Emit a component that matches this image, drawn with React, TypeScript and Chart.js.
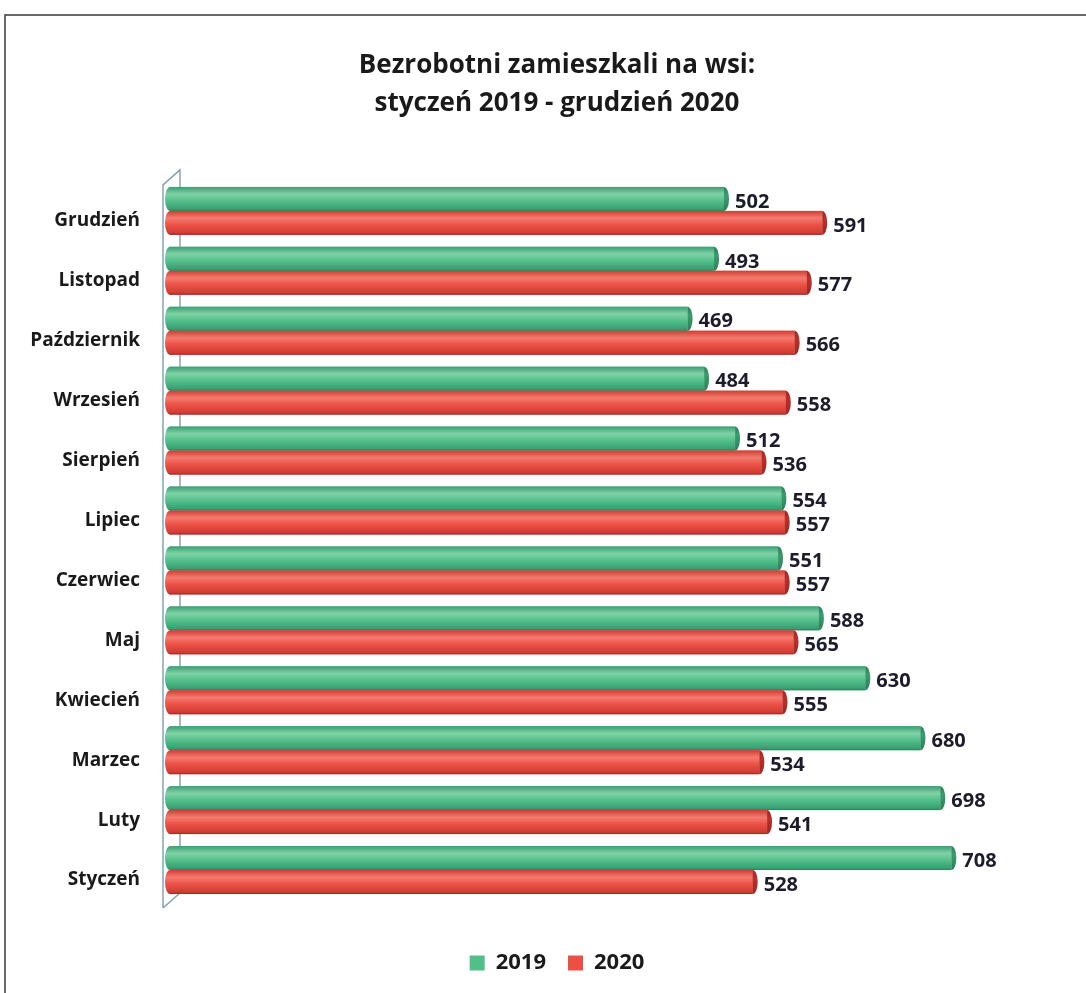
import React, { useEffect, useRef } from 'react';
import { Chart, registerables } from 'chart.js';

Chart.register(...registerables);

// Categories listed top to bottom as in the picture
const months = [
  'Grudzień', 'Listopad', 'Październik', 'Wrzesień', 'Sierpień', 'Lipiec',
  'Czerwiec', 'Maj', 'Kwiecień', 'Marzec', 'Luty', 'Styczeń',
];
const values2019 = [502, 493, 469, 484, 512, 554, 551, 588, 630, 680, 698, 708];
const values2020 = [591, 577, 566, 558, 536, 557, 557, 565, 555, 534, 541, 528];
const seriesNames = ['2019', '2020'];
const titleLines = ['Bezrobotni zamieszkali na wsi:', 'styczeń 2019 - grudzień 2020'];
const axisMin = 0;
const axisMax = 830;

const FONT = '"Open Sans", Lato, "Noto Sans", sans-serif';

const palettes = [
  { base: '#52be8a', top: '#3a9f72', light: '#7fd2a6', bottom: '#2c7f58', cap: '#3b9c6e' },
  { base: '#ec5045', top: '#cf3d34', light: '#f57a6e', bottom: '#9e2724', cap: '#b8312b' },
];

const framePlugin = {
  id: 'frame',
  beforeDraw(chart: any) {
    const { ctx, width, height } = chart;
    ctx.save();
    ctx.fillStyle = '#ffffff';
    ctx.fillRect(0, 0, width, height);
    ctx.strokeStyle = '#3a3a3a';
    ctx.lineWidth = 1.5;
    ctx.beginPath();
    ctx.moveTo(5, height);
    ctx.lineTo(5, 15);
    ctx.lineTo(width, 15);
    ctx.stroke();
    ctx.restore();
  },
};

const wallPlugin = {
  id: 'wall',
  beforeDatasetsDraw(chart: any) {
    const { ctx, chartArea } = chart;
    const { left, top, bottom } = chartArea;
    const lx = left - 7;
    const rx = left + 10;
    ctx.save();
    ctx.strokeStyle = '#7d9fae';
    ctx.lineWidth = 1.4;
    ctx.beginPath();
    ctx.moveTo(lx, bottom + 8);
    ctx.lineTo(lx, top + 4);
    ctx.lineTo(rx, top - 11);
    ctx.lineTo(rx, bottom - 7);
    ctx.lineTo(lx, bottom + 8);
    ctx.stroke();
    ctx.restore();
  },
};

const cylinderPlugin = {
  id: 'cylinders',
  afterDatasetsDraw(chart: any) {
    const { ctx } = chart;
    chart.data.datasets.forEach((ds: any, di: number) => {
      const meta = chart.getDatasetMeta(di);
      if (meta.hidden) return;
      const pal = palettes[di];
      meta.data.forEach((el: any, i: number) => {
        const { x, y, base, height } = el.getProps(['x', 'y', 'base', 'height'], true);
        const top = y - height / 2;
        const bot = y + height / 2;
        const g = ctx.createLinearGradient(0, top, 0, bot);
        g.addColorStop(0, pal.top);
        g.addColorStop(0.3, pal.light);
        g.addColorStop(0.6, pal.base);
        g.addColorStop(0.92, pal.top);
        g.addColorStop(1, pal.bottom);
        const rxCap = 5;
        ctx.save();
        ctx.fillStyle = g;
        ctx.beginPath();
        ctx.ellipse(base, y, rxCap, height / 2, 0, 0, Math.PI * 2);
        ctx.fill();
        ctx.fillRect(base, top, x - base, height);
        const gc = ctx.createLinearGradient(0, top, 0, bot);
        gc.addColorStop(0, pal.bottom);
        gc.addColorStop(0.35, pal.cap);
        gc.addColorStop(1, pal.bottom);
        ctx.fillStyle = gc;
        ctx.beginPath();
        ctx.ellipse(x, y, rxCap, height / 2, 0, -Math.PI / 2, Math.PI / 2);
        ctx.fill();
        ctx.fillStyle = '#1c1c2a';
        ctx.font = `bold 20px ${FONT}`;
        ctx.textAlign = 'left';
        ctx.textBaseline = 'middle';
        ctx.fillText(String(ds.data[i]), x + 11, y + 3);
        ctx.restore();
      });
    });
  },
};

export default function App() {
  const canvasRef = useRef<HTMLCanvasElement | null>(null);

  useEffect(() => {
    if (!canvasRef.current) return;
    const chart = new Chart(canvasRef.current, {
      type: 'bar',
      data: {
        labels: months,
        datasets: [
          {
            label: seriesNames[0],
            data: values2019,
            backgroundColor: palettes[0].base,
            borderWidth: 0,
            categoryPercentage: 0.8,
            barPercentage: 1.0,
          },
          {
            label: seriesNames[1],
            data: values2020,
            backgroundColor: palettes[1].base,
            borderWidth: 0,
            categoryPercentage: 0.8,
            barPercentage: 1.0,
          },
        ],
      },
      options: {
        indexAxis: 'y',
        responsive: false,
        animation: false,
        devicePixelRatio: 1,
        layout: { padding: { top: 20, left: 28, right: 0, bottom: 9 } },
        scales: {
          x: {
            min: axisMin,
            max: axisMax,
            display: true,
            grid: { display: false, drawTicks: false },
            border: { display: false },
            ticks: { display: false },
            afterFit: (s: any) => {
              s.height = 30;
            },
          },
          y: {
            grid: { display: false, drawTicks: false },
            border: { display: false },
            ticks: {
              color: '#1a1a1a',
              font: { family: FONT, size: 19, weight: 'bold' },
              padding: 30,
              labelOffset: 10,
            },
            afterFit: (s: any) => {
              s.width = 142;
            },
          },
        },
        plugins: {
          title: {
            display: true,
            text: titleLines,
            color: '#1a1a1a',
            font: { family: FONT, size: 26, weight: 'bold', lineHeight: 1.46 },
            padding: { top: 27, bottom: 58 },
          },
          legend: {
            display: true,
            position: 'bottom',
            labels: {
              color: '#1a1a1a',
              font: { family: FONT, size: 22, weight: 'bold' },
              boxWidth: 15,
              boxHeight: 15,
              padding: 22,
            },
          },
          tooltip: { enabled: false },
        },
      },
      plugins: [framePlugin, wallPlugin, cylinderPlugin],
    } as any);
    return () => chart.destroy();
  }, []);

  return (
    <div style={{ position: 'absolute', left: 0, top: 0, width: 1086, height: 993 }}>
      <canvas ref={canvasRef} width={1086} height={993} />
    </div>
  );
}
